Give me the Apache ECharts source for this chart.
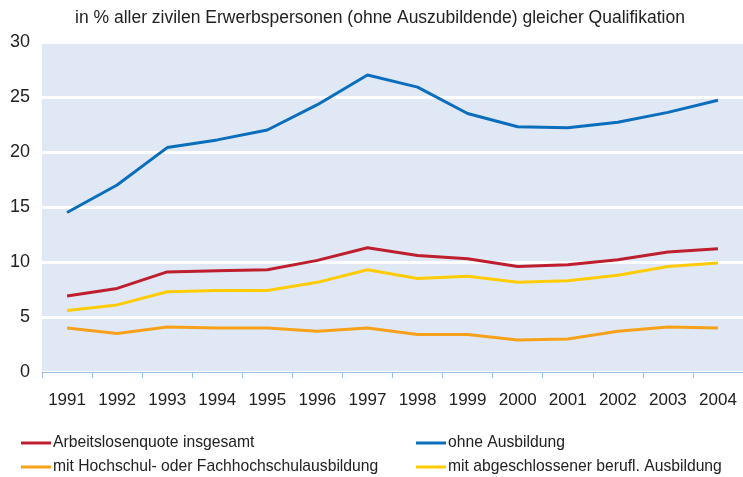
<!DOCTYPE html>
<html><head><meta charset="utf-8">
<script src="https://cdn.jsdelivr.net/npm/echarts@6/dist/echarts.min.js"></script>
<style>html,body{margin:0;padding:0;background:#fff}#c{width:743px;height:477px}</style>
</head><body><div id="c"></div>
<script>
const years = ['1991','1992','1993','1994','1995','1996','1997','1998','1999','2000','2001','2002','2003','2004'];
const insgesamt = [6.9,7.6,9.1,9.2,9.3,10.15,11.3,10.6,10.3,9.6,9.75,10.2,10.9,11.2];
const ohneAusbildung = [14.5,17.0,20.4,21.1,22.0,24.3,27.0,25.9,23.5,22.3,22.2,22.7,23.6,24.7];
const hochschul = [4.0,3.5,4.1,4.0,4.0,3.7,4.0,3.4,3.4,2.9,3.0,3.7,4.1,4.0];
const beruflich = [5.6,6.1,7.3,7.4,7.4,8.15,9.3,8.5,8.7,8.15,8.3,8.8,9.6,9.9];
const yTicks = [0,5,10,15,20,25,30];
const title = 'in % aller zivilen Erwerbspersonen (ohne Auszubildende) gleicher Qualifikation';
const names = ['Arbeitslosenquote insgesamt','ohne Ausbildung','mit Hochschul- oder Fachhochschulausbildung','mit abgeschlossener berufl. Ausbildung'];
const colors = ['#BE1E2D','#0A6EBD','#F7A11A','#FFCB05'];

const font = 'Liberation Sans, Arial, sans-serif';
const chart = echarts.init(document.getElementById('c'), null, {renderer:'canvas'});
const mk = (i, data) => ({
  name: names[i], type:'line', data, symbol:'none', smooth:false,
  lineStyle:{color:colors[i], width:3}, itemStyle:{color:colors[i]}, z: 3
});
const legendPos = [[16,430],[411,430],[16,454],[411,454]];
const legends = names.map((n, i) => ({
  orient:'horizontal', itemWidth:30, itemHeight:3, icon:'rect',
  left: legendPos[i][0], top: legendPos[i][1], data:[n],
  textStyle:{fontFamily:font, fontSize:15.7, color:'#222', padding:[0,0,0,-3]}
}));
chart.setOption({
  animation:false,
  title:{text:title, left:70, top:4, textStyle:{fontFamily:font, fontSize:17.5, fontWeight:'normal', color:'#222'}},
  grid:{left:42, top:42, width:706, height:330, show:true, backgroundColor:'#E1E8F5', borderWidth:0},
  legend: legends,
  xAxis:{type:'category', data:years, boundaryGap:true,
    axisLine:{lineStyle:{color:'#9DBDE5', width:1}},
    axisTick:{show:true, inside:false, length:6, lineStyle:{color:'#9DBDE5'}},
    axisLabel:{fontFamily:font, fontSize:17, color:'#222', margin:20, interval:0},
    splitLine:{show:false}},
  yAxis:{type:'value', min:yTicks[0], max:yTicks[yTicks.length-1], interval:5,
    axisLine:{show:false}, axisTick:{show:false},
    axisLabel:{fontFamily:font, fontSize:18, color:'#222', margin:12},
    splitLine:{show:true, lineStyle:{color:'#ffffff', width:3}}},
  series:[mk(0, insgesamt), mk(1, ohneAusbildung), mk(2, hochschul), mk(3, beruflich)]
});
</script></body></html>
